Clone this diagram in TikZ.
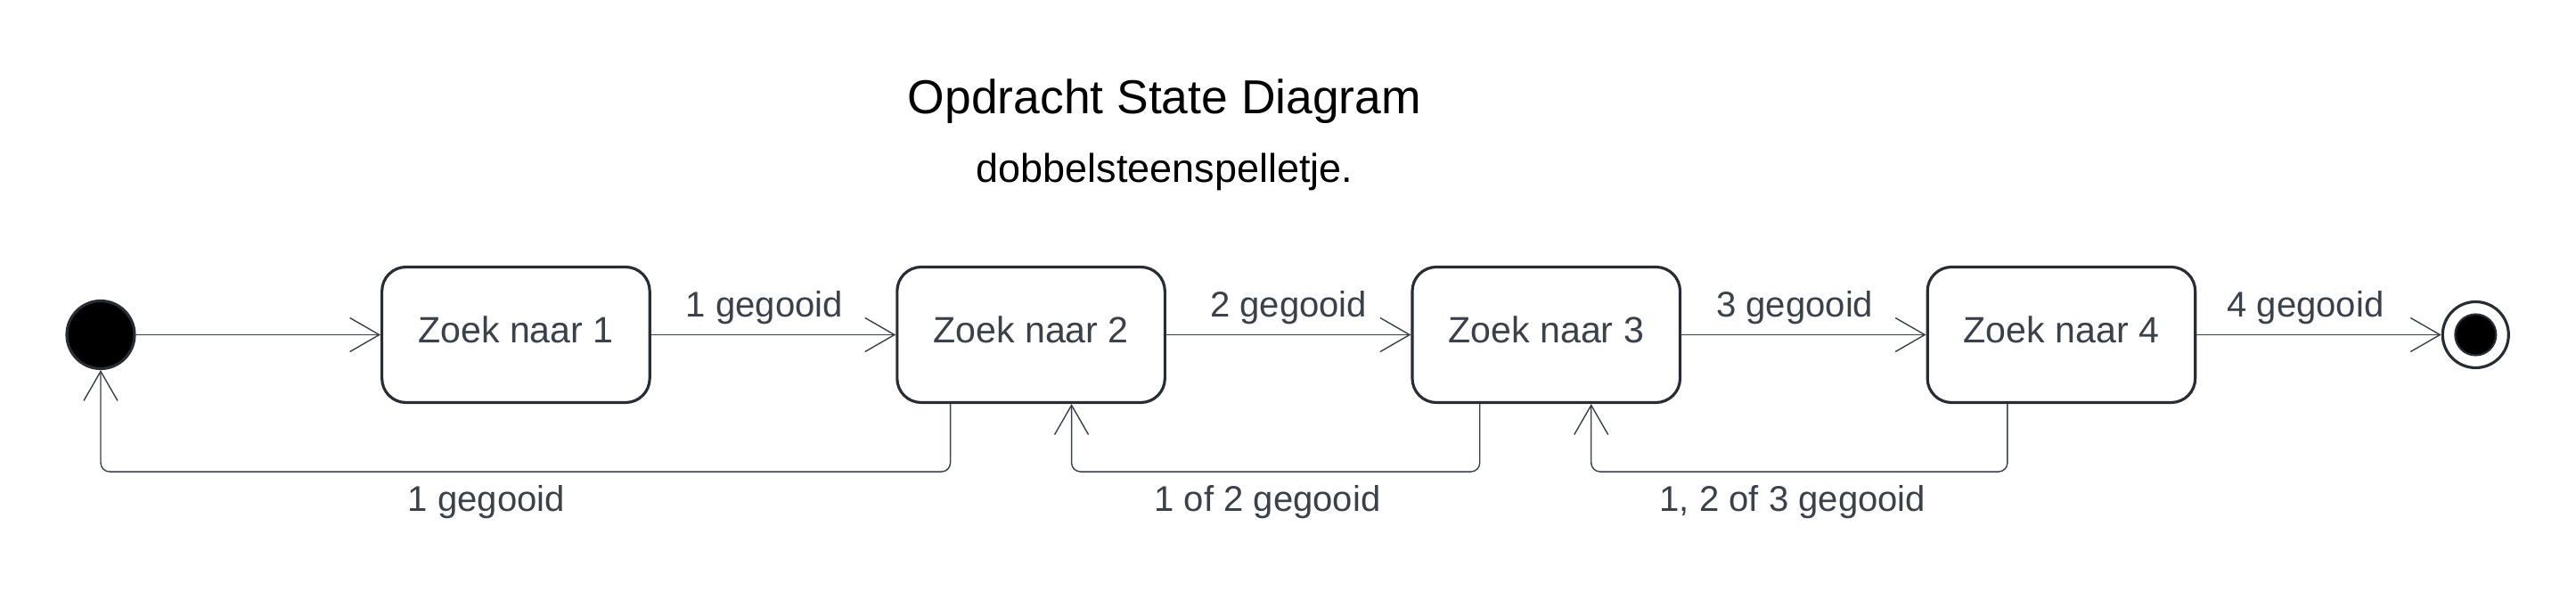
\documentclass[tikz,border=0pt]{standalone}
\usepackage{fontspec}
\setmainfont{Liberation Sans}
\usepackage{xcolor}
\usepackage{tikz}
\usetikzlibrary{shapes,arrows,positioning,calc,arrows.meta}
\definecolor{lucidtext}{HTML}{3A414A}
\definecolor{lucidedge}{HTML}{282C33}

\begin{document}
\begin{tikzpicture}[node distance=2.745cm, auto,
    dice state/.style={rectangle, draw=lucidedge, line width=0.9pt, rounded corners=2.7mm, minimum width=3.005cm, minimum height=1.52cm, align=center, text=lucidtext, text depth=1.1mm, font=\fontsize{11.7}{14}\selectfont},
    dice start/.style={circle, draw=lucidedge, fill=black, line width=0.9pt, minimum size=7.6mm, inner sep=0pt},
    dice end/.style={circle, draw=lucidedge, fill=white, line width=0.9pt, minimum size=7.4mm, inner sep=0pt},
    dice dot/.style={circle, draw=lucidedge, fill=black, line width=0.6pt, minimum size=4.6mm, inner sep=0pt},
    dice arrow/.style={-{Straight Barb[length=3.3mm, width=3.8mm]}, draw=lucidtext, line width=0.4pt},
    dice back/.style={dice arrow, rounded corners=1mm},
    dice label/.style={text=lucidtext, inner sep=0pt, font=\fontsize{11.4}{14}\selectfont}]

    \useasboundingbox (0,0) rectangle (28.91,6.64);

    % titel
    \node [anchor=base, font=\fontsize{15.2}{18}\selectfont] (title) at (13.07,5.36) {Opdracht State Diagram};
    \node [anchor=base, font=\fontsize{12.8}{15}\selectfont] (subtitle) at (13.07,4.59) {dobbelsteenspelletje.};

    % toestanden
    \node [dice start] (start) at (1.13,2.885) {};
    \node [dice state, right=of start] (zoek1) {Zoek naar 1};
    \node [dice state, right=of zoek1] (zoek2) {Zoek naar 2};
    \node [dice state, right=of zoek2] (zoek3) {Zoek naar 3};
    \node [dice state, right=of zoek3] (zoek4) {Zoek naar 4};
    \node [dice end, right=of zoek4] (stop) {};
    \node [dice dot] (stopdot) at (stop) {};

    % overgangen
    \draw [dice arrow] (start) -- (zoek1);
    \draw [dice arrow] (zoek1) -- node [dice label, above=1.05mm, xshift=-1mm] (gooi1) {1 gegooid} (zoek2);
    \draw [dice arrow] (zoek2) -- node [dice label, above=1.05mm] (gooi2) {2 gegooid} (zoek3);
    \draw [dice arrow] (zoek3) -- node [dice label, above=1.05mm, xshift=-1mm] (gooi3) {3 gegooid} (zoek4);
    \draw [dice arrow] (zoek4) -- node [dice label, above=1.05mm, xshift=-1.5mm] (gooi4) {4 gegooid} (stop);

    % terug
    \draw [dice back] ([xshift=-9.05mm]zoek2.south) -- ++(0,-7.6mm) -| node [dice label, below=1.5mm, pos=0.273] (terug1) {1 gegooid} (start.south);
    \draw [dice back] ([xshift=-7.45mm]zoek3.south) -- ++(0,-7.6mm) -| node [dice label, below=1.5mm, pos=0.26] (terug2) {1 of 2 gegooid} ([xshift=4.55mm]zoek2.south);
    \draw [dice back] ([xshift=-6.05mm]zoek4.south) -- ++(0,-7.6mm) -| node [dice label, below=1.5mm, pos=0.258] (terug3) {1, 2 of 3 gegooid} ([xshift=5.05mm]zoek3.south);
\end{tikzpicture}
\end{document}
